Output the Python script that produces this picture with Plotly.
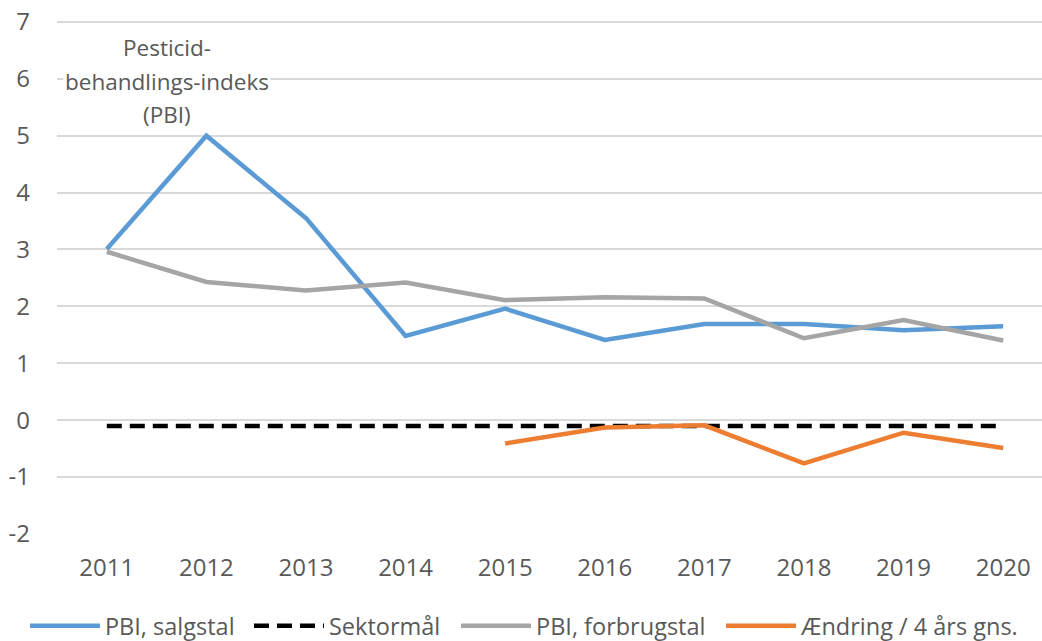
import plotly.graph_objects as go

years = ["2011", "2012", "2013", "2014", "2015", "2016", "2017", "2018", "2019", "2020"]
pbi_salgstal = [3.01, 5.0, 3.55, 1.48, 1.96, 1.41, 1.69, 1.69, 1.58, 1.65]
pbi_forbrugstal = [2.96, 2.43, 2.28, 2.42, 2.11, 2.16, 2.14, 1.44, 1.76, 1.40]
sektormaal = [-0.1] * 10
aendring = [None, None, None, None, -0.41, -0.13, -0.09, -0.76, -0.22, -0.49]
y_ticks = [-2, -1, 0, 1, 2, 3, 4, 5, 6, 7]
y_tick_labels = ["-2", "-1", "0", "1", "2", "3", "4", "5", "6", "7"]
label_lines = ["Pesticid-", "behandlings-indeks", "(PBI)"]
label_y = [6.55, 5.95, 5.37]

FONT = "Open Sans"
TXT = "#595959"

series = [
    ("PBI, salgstal", pbi_salgstal, dict(color="#5B9BD5", width=4.5), "legend", -0.0325),
    ("Sektormål", sektormaal, dict(color="#000000", width=4.5, dash="15px,8px"), "legend2", 0.1949),
    ("PBI, forbrugstal", pbi_forbrugstal, dict(color="#A5A5A5", width=4.5), "legend3", 0.4051),
    ("Ændring / 4 års gns.", aendring, dict(color="#ED7D31", width=4.5), "legend4", 0.6741),
]

fig = go.Figure()
legend_layout = {}
for name, vals, line, leg, lx in series:
    fig.add_trace(go.Scatter(x=years, y=vals, mode="lines", name=name, line=line,
                             legend=leg))
    legend_layout[leg] = dict(orientation="h", x=lx, xanchor="left", y=-0.1786,
                              yanchor="middle", itemwidth=70, bgcolor="rgba(0,0,0,0)",
                              font=dict(family=FONT, size=23.5, color=TXT))

for txt, yy in zip(label_lines, label_y):
    fig.add_annotation(x=0.6, y=yy, xref="x", yref="y", text=txt,
                       showarrow=False, bgcolor="white", borderpad=1,
                       font=dict(family=FONT, size=22.5, color=TXT))

fig.update_layout(
    width=1042, height=641,
    margin=dict(l=57, r=0, t=19, b=107, autoexpand=False),
    plot_bgcolor="white", paper_bgcolor="white",
    font=dict(family=FONT, size=23.5, color=TXT),
    showlegend=True,
    xaxis=dict(type="category", range=[-0.5, 9.39], showgrid=False, zeroline=False,
               showline=False, ticks="", ticklabelstandoff=17, automargin=False,
               ticklabeloverflow="allow",
               tickfont=dict(family=FONT, size=24, color=TXT)),
    yaxis=dict(range=[-2, 7.05], tickvals=y_ticks, ticktext=y_tick_labels,
               showgrid=True, gridcolor="#D9D9D9",
               gridwidth=1.5, zeroline=False, showline=False, ticks="",
               ticklabelstandoff=26, automargin=False, ticklabeloverflow="allow",
               tickfont=dict(family=FONT, size=24, color=TXT)),
    **legend_layout,
)

fig.write_html("out.html", config={"displayModeBar": False},
               post_script="document.body.style.margin='0';document.body.style.overflow='hidden';")
